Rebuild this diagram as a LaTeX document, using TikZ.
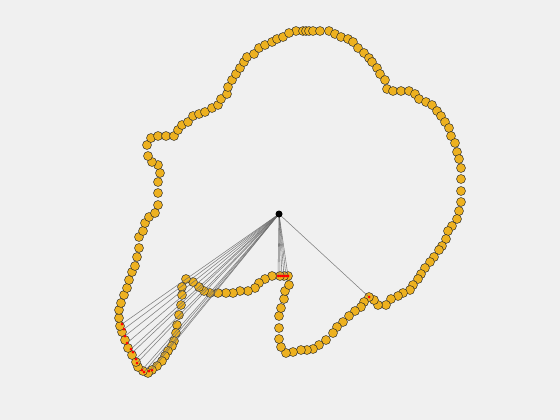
\documentclass[tikz,border=0pt]{standalone}
\definecolor{bg}{gray}{0.94}
\definecolor{mOrange}{rgb}{0.929,0.694,0.125}
\definecolor{lnGray}{rgb}{0.42,0.42,0.42}
\begin{document}
\begin{tikzpicture}[x=1pt,y=-1pt,
  pt/.style={circle,draw=black!85,line width=0.45pt,fill=mOrange,minimum size=9pt,inner sep=0pt},
  hit/.style={circle,fill=red,minimum size=3pt,inner sep=0pt},
  ray/.style={draw=lnGray,line width=0.55pt,opacity=0.85},
  ctr/.style={circle,fill=black,minimum size=7pt,inner sep=0pt}]
\fill[bg] (0,0) rectangle (560,420);
\useasboundingbox (0,0) rectangle (560,420);
\foreach \x/\y [count=\i] in {296/31,303/31,306/31,309/31,313/31,320/31,329/31,335/34,341/37,348/39,353/42,358/48,364/53,369/58,372/62,377/68,380/74,385/80,387/89,393/91,401/91,409/91,415/94,419/99,426/102,432/105,437/111,441/116,445/122,449/128,451/136,455/143,457/152,459/159,461/168,461/179,461/191,461/202,459/211,457/219,452/226,448/231,446/239,442/246,439/250,434/257,430/262,425/268,421/274,418/279,413/285,410/290,403/293,398/296,391/299,386/305,378/305,374/300,369/297,364/302,361/307,355/311,349/316,343/322,337/327,333/333,326/340,319/345,313/349,307/350,301/350,293/352,286/353,281/347,279/339,279/328,279/316,281/308,284/299,285/291,289/285,288/276,284/276,280/276,272/276,265/279,259/283,255/288,248/291,240/291,233/293,226/293,218/293,210/293,204/291,199/287,193/282,186/279,182/287,182/295,181/305,179/315,177/325,176/333,174/341,172/346,168/351,165/356,162/361,157/366,152/370,148/373,143/371,138/367,136/362,132/355,128/348,125/340,122/332,120/326,119/318,119/310,121/303,124/295,127/288,129/280,132/272,135/266,137/257,139/248,139/237,143/231,145/223,149/217,155/213,158/205,158/193,158/182,160/173,158/165,152/162,148/156,147/145,151/138,158/136,166/136,174/136,178/130,182/125,188/122,193/116,199/114,205/112,212/108,218/105,221/99,227/94,228/87,232/80,236/74,240/68,244/62,247/57,254/54,259/48,265/45,272/42,277/39,283/37,289/33}
  \node[pt] (p\i) at (\x,\y) {};
\coordinate (c) at (279,214);
\foreach \x/\y [count=\i] in {122/324,124/329,125/336,127/343,131/349,133/352,136/359,137/363,142/370,144/372,149/371,152/370,278/276,280/276,282/276,284/276,286/276,288/276,369/297}
  {\coordinate (h\i) at (\x,\y);
   \draw[ray] (c) -- (h\i);}
\foreach \i in {1,...,19} \node[hit] (r\i) at (h\i) {};
\node[ctr] (cdot) at (c) {};
\end{tikzpicture}
\end{document}
